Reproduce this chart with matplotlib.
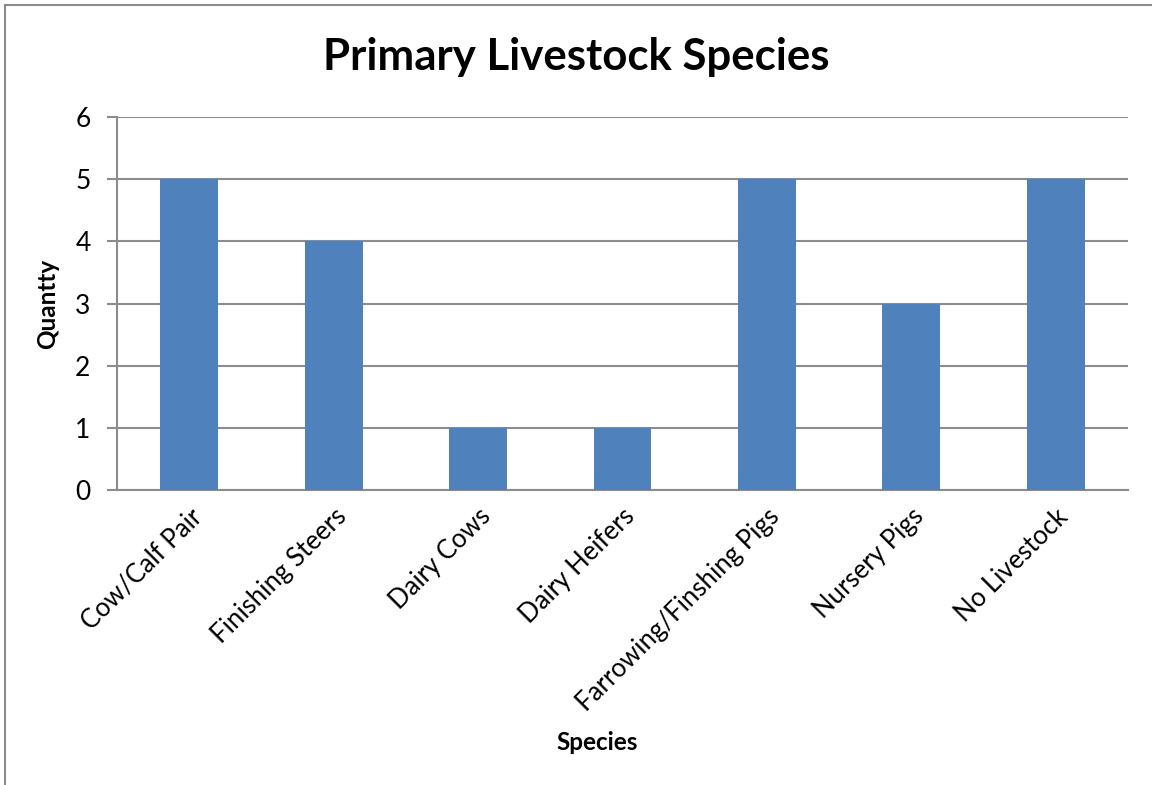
import matplotlib.pyplot as plt
from matplotlib.lines import Line2D

categories = ["Cow/Calf Pair", "Finishing Steers", "Dairy Cows", "Dairy Heifers",
              "Farrowing/Finshing Pigs", "Nursery Pigs", "No Livestock"]
quantity = [5, 4, 1, 1, 5, 3, 5]
y_ticks = [0, 1, 2, 3, 4, 5, 6]

plt.rcParams['font.family'] = ['Lato', 'DejaVu Sans']

fig = plt.figure(figsize=(11.52, 7.85), dpi=100)
ax = fig.add_axes([117 / 1152, 1 - 490 / 785, 1011 / 1152, 373 / 785])

grid_color = '#8c8c8c'
ax.bar(range(len(categories)), quantity, width=0.4, color='#4f81bd', zorder=3)
ax.set_xlim(-0.5, len(categories) - 0.5)
ax.set_ylim(0, 6)
ax.set_yticks(y_ticks)
ax.yaxis.grid(True, color=grid_color, linewidth=1.5, zorder=0)

ax.set_xticks(range(len(categories)))
ax.set_xticklabels(categories, rotation=45, ha='right', rotation_mode='anchor', fontsize=18.5)
ax.tick_params(axis='x', length=0, pad=10)
ax.tick_params(axis='y', length=7, width=1.5, color=grid_color, labelsize=19, pad=12)

for side in ['top', 'right']:
    ax.spines[side].set_visible(False)
for side in ['left', 'bottom']:
    ax.spines[side].set_color(grid_color)
    ax.spines[side].set_linewidth(1.5)

ax.set_ylabel("Quantty", fontsize=17.5, fontweight='bold')
ax.yaxis.set_label_coords(-0.057, 0.5)
ax.set_xlabel("Species", fontsize=17.5, fontweight='bold')
ax.xaxis.set_label_coords(0.475, -0.645)

fig.text(0.5, 1 - 57 / 785, "Primary Livestock Species", ha='center', va='center',
         fontsize=31.5, fontweight='bold')

# outer chart frame (only left and top edges are visible)
fig.add_artist(Line2D([5 / 1152, 5 / 1152], [0, 1 - 5 / 785], transform=fig.transFigure,
                      color='#8c8c8c', linewidth=1.5))
fig.add_artist(Line2D([5 / 1152, 1], [1 - 5 / 785, 1 - 5 / 785], transform=fig.transFigure,
                      color='#8c8c8c', linewidth=1.5))

fig.savefig('out.png', dpi=100)
